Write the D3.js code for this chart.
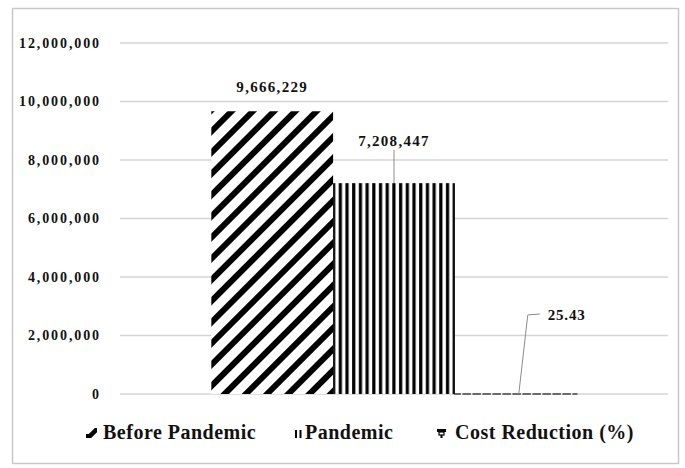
<!DOCTYPE html>
<html>
<head>
<meta charset="utf-8">
<script src="https://cdn.jsdelivr.net/npm/d3@7"></script>
<style>
  html, body { margin: 0; padding: 0; background: #fff; }
  svg { display: block; }
  text { font-family: "Liberation Serif", "Times New Roman", serif; font-weight: bold; fill: #111; }
</style>
</head>
<body>
<script>
// Operating cost comparison, one group with three series
const categories = ["Cost"];
const seriesNames = ["Before Pandemic", "Pandemic", "Cost Reduction (%)"];
const seriesValues = [9666229, 7208447, 25.43];
const valueLabels = ["9,666,229", "7,208,447", "25.43"];
const yTicks = [0, 2000000, 4000000, 6000000, 8000000, 10000000, 12000000];

const W = 685, H = 468;
const margin = { left: 120, right: 17, top: 43, bottom: 74 };

const svg = d3.select("body").append("svg")
  .attr("width", W).attr("height", H);

// hatch fills
const defs = svg.append("defs");
const diag = defs.append("pattern").attr("id", "diag")
  .attr("patternUnits", "userSpaceOnUse")
  .attr("width", 15).attr("height", 15)
  .attr("patternTransform", "rotate(45)");
diag.append("rect").attr("width", 15).attr("height", 15).attr("fill", "#fff");
diag.append("line").attr("x1", 3).attr("y1", 0).attr("x2", 3).attr("y2", 15)
  .attr("stroke", "#000").attr("stroke-width", 6);

const vert = defs.append("pattern").attr("id", "vert")
  .attr("patternUnits", "userSpaceOnUse")
  .attr("width", 6.7).attr("height", 10);
vert.append("rect").attr("width", 6.7).attr("height", 10).attr("fill", "#fff");
vert.append("line").attr("x1", 1.7).attr("y1", 0).attr("x2", 1.7).attr("y2", 10)
  .attr("stroke", "#000").attr("stroke-width", 3.2);

const grid = defs.append("pattern").attr("id", "grid")
  .attr("patternUnits", "userSpaceOnUse")
  .attr("width", 10).attr("height", 4);
grid.append("rect").attr("width", 10).attr("height", 4).attr("fill", "#fff");
grid.append("rect").attr("width", 6).attr("height", 2).attr("fill", "#000");

const fills = ["url(#diag)", "url(#vert)", "url(#grid)"];

// outer frame
svg.append("rect")
  .attr("x", 12.5).attr("y", 8.5).attr("width", 666).attr("height", 455)
  .attr("fill", "none").attr("stroke", "#c8c8c8").attr("stroke-width", 1.5);

const x0 = d3.scaleBand().domain(categories)
  .range([margin.left, W - margin.right])
  .paddingInner(0).paddingOuter(0.25);
const x1 = d3.scaleBand().domain(seriesNames)
  .range([0, x0.bandwidth()]).padding(0);
const y = d3.scaleLinear().domain([0, 12000000])
  .range([H - margin.bottom, margin.top]);

// y axis labels
const yAxis = d3.axisLeft(y).tickValues(yTicks)
  .tickSize(0).tickPadding(0)
  .tickFormat(d3.format(","));
const gy = svg.append("g")
  .attr("transform", `translate(${margin.left - 19},0)`)
  .call(yAxis);
gy.select(".domain").remove();
gy.selectAll("text")
  .attr("font-size", 14).attr("letter-spacing", "1.9px")
  .attr("font-family", "Liberation Serif, serif").attr("font-weight", "bold")
  .attr("fill", "#111");

// gridlines
svg.append("g").selectAll("line").data(yTicks).join("line")
  .attr("x1", margin.left).attr("x2", W - margin.right)
  .attr("y1", d => y(d)).attr("y2", d => y(d))
  .attr("stroke", "#d4d4d4").attr("stroke-width", 1.6);

// bars
const group = svg.append("g")
  .attr("transform", `translate(${x0(categories[0])},0)`);
const barData = seriesNames.map((s, i) => ({ s, v: seriesValues[i], i }));
group.selectAll("rect.bar").data(barData).join("rect")
  .attr("class", "bar")
  .attr("x", d => x1(d.s))
  .attr("y", d => y(d.v))
  .attr("width", x1.bandwidth())
  .attr("height", d => y(0) - y(d.v))
  .attr("fill", d => fills[d.i])
  .attr("stroke", d => d.i === 2 ? "#444" : "none")
  .attr("stroke-width", 1.6)
  .attr("stroke-dasharray", "6,4");

// value labels
const bw = x1.bandwidth();
const cx = d => x1(d.s) + bw / 2;
// first label sits directly above its bar
group.append("text")
  .attr("x", cx(barData[0])).attr("y", y(barData[0].v) - 19)
  .attr("text-anchor", "middle").attr("font-size", 15).attr("letter-spacing", "1.3px")
  .text(valueLabels[0]);
// second label with a vertical leader
group.append("line")
  .attr("x1", cx(barData[1])).attr("x2", cx(barData[1]))
  .attr("y1", y(barData[1].v)).attr("y2", y(barData[1].v) - 33)
  .attr("stroke", "#8c8c8c").attr("stroke-width", 1);
group.append("text")
  .attr("x", cx(barData[1])).attr("y", y(barData[1].v) - 37)
  .attr("text-anchor", "middle").attr("font-size", 15).attr("letter-spacing", "1.3px")
  .text(valueLabels[1]);
// third label with a bent leader
const b3 = barData[2];
const lx = cx(b3) + 3, ly = y(b3.v);
group.append("polyline")
  .attr("points", [[lx, ly], [lx + 9, ly - 79], [lx + 21, ly - 80]].map(p => p.join(",")).join(" "))
  .attr("fill", "none").attr("stroke", "#8c8c8c").attr("stroke-width", 1);
group.append("text")
  .attr("x", lx + 29).attr("y", ly - 74)
  .attr("text-anchor", "start").attr("font-size", 15).attr("letter-spacing", "0.8px")
  .text(valueLabels[2]);

// legend
const legendX = [86, 295, 437];
const textX = [103, 305, 455];
const lg = svg.append("g");
seriesNames.forEach((s, i) => {
  const g = lg.append("g").attr("transform", `translate(${legendX[i]},428)`);
  if (i === 0) {
    const cp = "legclip0";
    defs.append("clipPath").attr("id", cp)
      .append("rect").attr("width", 11).attr("height", 10);
    g.append("g").attr("clip-path", `url(#${cp})`)
      .append("line").attr("x1", 0).attr("y1", 12).attr("x2", 12).attr("y2", 0)
      .attr("stroke", "#000").attr("stroke-width", 4.5);
    g.append("rect").attr("x", 0).attr("y", 6).attr("width", 4).attr("height", 4).attr("fill", "#000");
  } else if (i === 1) {
    g.append("rect").attr("x", 0).attr("y", 2).attr("width", 2).attr("height", 8).attr("fill", "#000");
    g.append("rect").attr("x", 4.5).attr("y", 2).attr("width", 2).attr("height", 8).attr("fill", "#000");
  } else {
    g.append("rect").attr("x", 0).attr("y", 1).attr("width", 9).attr("height", 3).attr("fill", "#000");
    g.append("rect").attr("x", 2).attr("y", 4).attr("width", 5).attr("height", 3).attr("fill", "#fff")
      .attr("stroke", "#000").attr("stroke-width", 1.2);
    g.append("rect").attr("x", 3.5).attr("y", 7).attr("width", 2).attr("height", 3).attr("fill", "#000");
  }
  g.append("text").attr("x", textX[i] - legendX[i]).attr("y", 11)
    .attr("font-size", 20).attr("letter-spacing", "0.5px")
    .text(s);
});
</script>
</body>
</html>
